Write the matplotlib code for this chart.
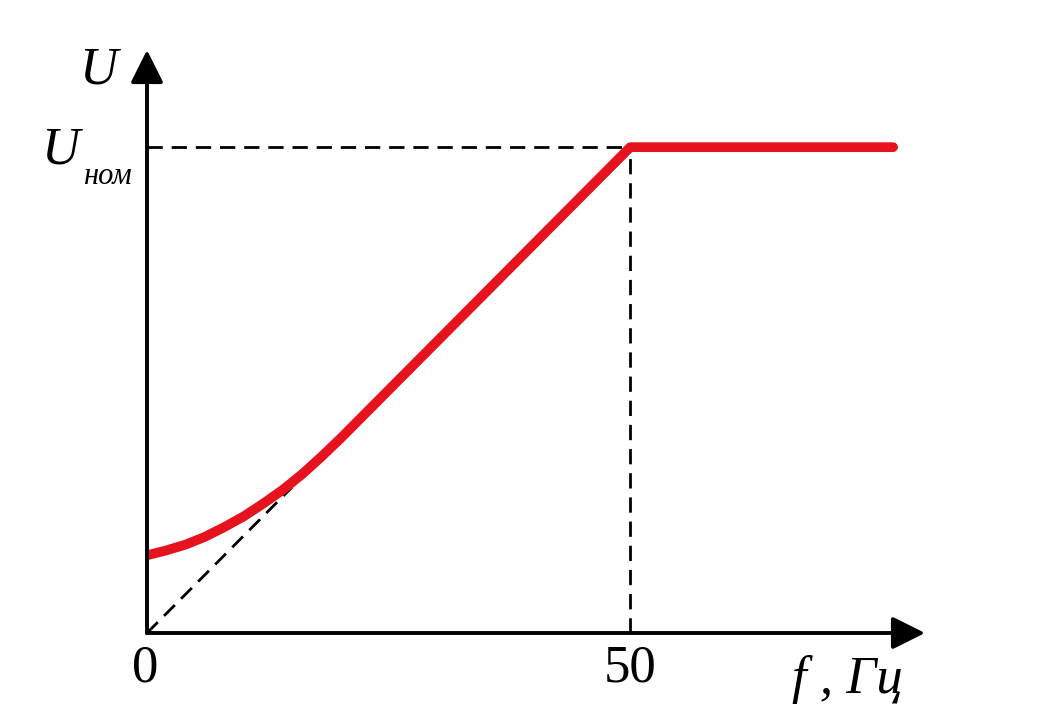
import matplotlib
matplotlib.use("Agg")
from matplotlib import pyplot as plt

# частота, Гц и напряжение в долях U_ном
f_curve = [0, 2, 4, 6, 8, 10, 12, 14, 16, 18, 20, 50, 77.2]
u_curve = [0.160, 0.170, 0.182, 0.198, 0.218, 0.240, 0.266, 0.294, 0.326, 0.362, 0.400, 1.0, 1.0]

# пунктир U/f = const из начала координат
f_diag = [0, 15]
u_diag = [0, 0.30]

f_nom = 50
u_nom = 1.0
f_max = 80.5
u_max = 1.2

W, H = 1048, 722
fig = plt.figure(figsize=(W / 100, H / 100), dpi=100)
ax = fig.add_axes([147 / W, 89 / H, 778 / W, 583 / H])
ax.set_xlim(0, f_max)
ax.set_ylim(0, u_max)
ax.axis('off')

dash = dict(color='black', lw=2, dashes=(5.5, 3.2), solid_capstyle='butt')
ax.plot([0, f_nom], [u_nom, u_nom], **dash)
ax.plot([f_nom, f_nom], [0, u_nom], **dash)
ax.plot(f_diag, u_diag, **dash)

ax.plot(f_curve, u_curve, color='#e6121e', lw=7, solid_capstyle='round',
        solid_joinstyle='round', zorder=3)

# оси со стрелками
arrow = dict(arrowstyle='-|>,head_length=1.0,head_width=0.5', mutation_scale=20,
             lw=2.8, color='black', shrinkA=0, shrinkB=0)
ax.annotate('', xy=(f_max, 0), xytext=(0, 0), arrowprops=arrow, annotation_clip=False)
ax.annotate('', xy=(0, u_max), xytext=(0, 0), arrowprops=arrow, annotation_clip=False)

serif = ['Liberation Serif', 'DejaVu Serif']


def put(x, y, s, size, **kw):
    fig.text(x / W, 1 - y / H, s, fontsize=size, family=serif, **kw)


put(98, 70, 'U', 38, style='italic', ha='center', va='center')
put(60, 150, 'U', 38, style='italic', ha='center', va='center')
put(108, 177, 'ном', 22, style='italic', ha='center', va='center')
put(145, 668, '0', 38, ha='center', va='center')
put(630, 668, '50', 38, ha='center', va='center')
put(847, 680, 'f , Гц', 38, style='italic', ha='center', va='center')

fig.savefig('out.png', dpi=100)
